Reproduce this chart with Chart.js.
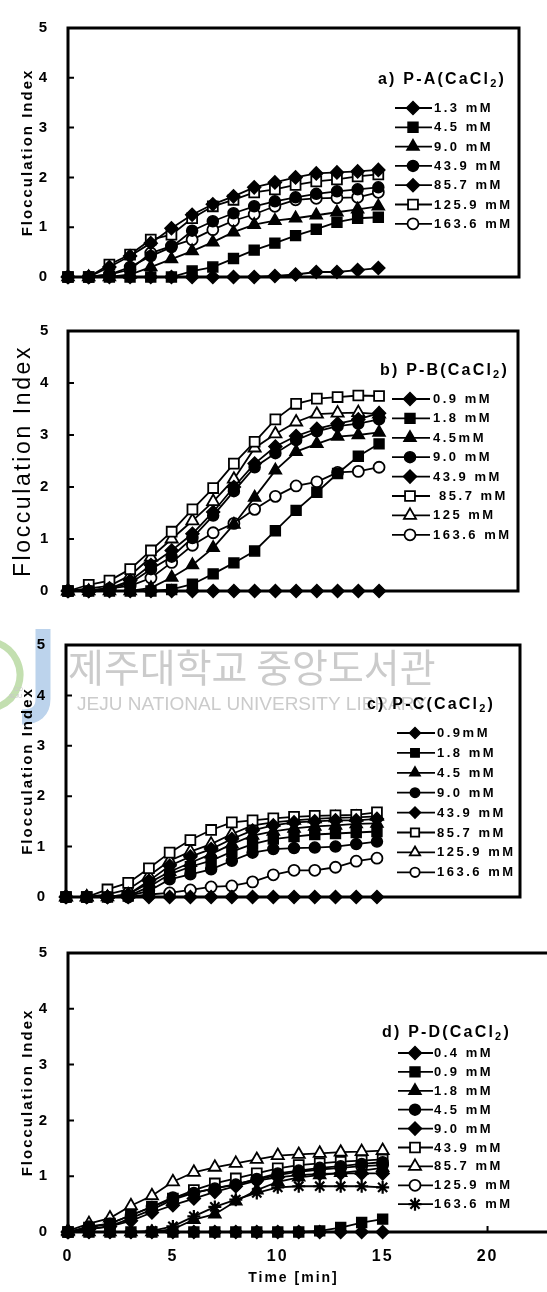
<!DOCTYPE html>
<html>
<head>
<meta charset="utf-8">
<script src="https://cdn.jsdelivr.net/npm/chart.js@4.4.1/dist/chart.umd.min.js"></script>
<style>
  html, body { margin: 0; padding: 0; background: #fff; width: 547px; height: 1292px; overflow: hidden; }
  canvas { position: absolute; left: 0; }
</style>
</head>
<body>
<canvas id="pa" width="547" height="305" style="top:0px"></canvas>
<canvas id="pb" width="547" height="312" style="top:305px"></canvas>
<canvas id="pc" width="547" height="308" style="top:617px"></canvas>
<canvas id="pd" width="547" height="367" style="top:925px"></canvas>
<script>
// ---------- shared axes ----------
const minutes = [0, 1, 2, 3, 4, 5, 6, 7, 8, 9, 10, 11, 12, 13, 14, 15];
const yTickValues = [0, 1, 2, 3, 4, 5];
const xTickValues = [0, 5, 10, 15, 20];
const yAxisTitle = 'Flocculation Index';
const xAxisTitle = 'Time [min]';

// ---------- a) P-A (CaCl2) ----------
const paTitle = ['a) P-A(CaCl', '2', ')'];
const paLabels = ['1.3 mM', '4.5 mM', '9.0 mM', '43.9 mM', '85.7 mM', '125.9 mM', '163.6 mM'];
const pa_1_3   = [0, 0, 0, 0, 0, 0, 0, 0, 0, 0, 0.02, 0.05, 0.1, 0.1, 0.14, 0.18];
const pa_4_5   = [0, 0, 0, 0, 0, 0, 0.12, 0.2, 0.37, 0.54, 0.68, 0.83, 0.96, 1.1, 1.18, 1.2];
const pa_9_0   = [0, 0, 0, 0.05, 0.2, 0.36, 0.52, 0.7, 0.9, 1.05, 1.13, 1.18, 1.24, 1.3, 1.36, 1.42];
const pa_43_9  = [0, 0, 0.05, 0.2, 0.42, 0.6, 0.93, 1.12, 1.28, 1.42, 1.52, 1.6, 1.67, 1.72, 1.76, 1.8];
const pa_85_7  = [0, 0, 0.2, 0.42, 0.68, 0.98, 1.25, 1.46, 1.62, 1.8, 1.9, 2.0, 2.08, 2.1, 2.12, 2.15];
const pa_125_9 = [0, 0, 0.25, 0.45, 0.75, 0.85, 1.18, 1.42, 1.55, 1.7, 1.76, 1.85, 1.92, 1.96, 2.02, 2.06];
const pa_163_6 = [0, 0, 0.05, 0.15, 0.48, 0.62, 0.75, 0.95, 1.13, 1.26, 1.42, 1.55, 1.58, 1.59, 1.6, 1.7];

// ---------- b) P-B (CaCl2) ----------
const pbTitle = ['b) P-B(CaCl', '2', ')'];
const pbLabels = ['0.9 mM', '1.8 mM', '4.5mM', '9.0 mM', '43.9 mM', ' 85.7 mM', '125 mM', '163.6 mM'];
const pb_0_9   = [0, 0, 0, 0, 0, 0, 0, 0, 0, 0, 0, 0, 0, 0, 0, 0];
const pb_1_8   = [0, 0, 0, 0, 0, 0.03, 0.13, 0.33, 0.54, 0.77, 1.16, 1.55, 1.9, 2.26, 2.59, 2.83];
const pb_4_5   = [0, 0, 0, 0, 0.06, 0.26, 0.5, 0.83, 1.28, 1.8, 2.32, 2.68, 2.83, 2.97, 3.0, 3.05];
const pb_9_0   = [0, 0, 0.05, 0.15, 0.42, 0.66, 1.02, 1.45, 1.92, 2.38, 2.65, 2.9, 3.07, 3.17, 3.22, 3.3];
const pb_43_9  = [0, 0, 0.05, 0.2, 0.5, 0.78, 1.1, 1.52, 2.0, 2.45, 2.78, 2.98, 3.12, 3.22, 3.3, 3.42];
const pb_85_7  = [0, 0.12, 0.2, 0.42, 0.78, 1.14, 1.57, 1.98, 2.45, 2.87, 3.3, 3.6, 3.7, 3.73, 3.76, 3.75];
const pb_125   = [0, 0.05, 0.1, 0.3, 0.65, 1.0, 1.35, 1.72, 2.15, 2.75, 3.02, 3.25, 3.4, 3.42, 3.43, 3.4];
const pb_163_6 = [0, 0.02, 0.05, 0.1, 0.25, 0.55, 0.88, 1.12, 1.3, 1.57, 1.82, 2.02, 2.1, 2.28, 2.3, 2.38];

// ---------- c) P-C (CaCl2) ----------
const pcTitle = ['c) P-C(CaCl', '2', ')'];
const pcLabels = ['0.9mM', '1.8 mM', '4.5 mM', '9.0 mM', '43.9 mM', '85.7 mM', '125.9 mM', '163.6 mM'];
const pc_0_9   = [0, 0, 0, 0, 0, 0, 0, 0, 0, 0, 0, 0, 0, 0, 0, 0];
const pc_1_8   = [0, 0, 0, 0.02, 0.2, 0.45, 0.6, 0.72, 0.9, 1.05, 1.15, 1.2, 1.24, 1.26, 1.28, 1.3];
const pc_4_5   = [0, 0, 0, 0.05, 0.28, 0.5, 0.68, 0.85, 1.05, 1.22, 1.3, 1.36, 1.4, 1.42, 1.45, 1.46];
const pc_9_0   = [0, 0, 0, 0.02, 0.12, 0.35, 0.45, 0.55, 0.72, 0.88, 0.95, 0.97, 0.98, 1.0, 1.05, 1.1];
const pc_43_9  = [0, 0, 0, 0.05, 0.32, 0.62, 0.8, 0.95, 1.15, 1.32, 1.42, 1.48, 1.5, 1.52, 1.52, 1.55];
const pc_85_7  = [0, 0, 0.15, 0.28, 0.57, 0.88, 1.13, 1.33, 1.48, 1.52, 1.56, 1.59, 1.61, 1.62, 1.63, 1.68];
const pc_125_9 = [0, 0, 0.05, 0.15, 0.42, 0.72, 0.9, 1.05, 1.25, 1.42, 1.48, 1.52, 1.55, 1.57, 1.58, 1.6];
const pc_163_6 = [0, 0, 0, 0, 0.05, 0.08, 0.14, 0.2, 0.22, 0.3, 0.44, 0.53, 0.53, 0.59, 0.71, 0.77];

// ---------- d) P-D (CaCl2) ----------
const pdTitle = ['d) P-D(CaCl', '2', ')'];
const pdLabels = ['0.4 mM', '0.9 mM', '1.8 mM', '4.5 mM', '9.0 mM', '43.9 mM', '85.7 mM', '125.9 mM', '163.6 mM'];
const pd_0_4   = [0, 0, 0, 0, 0, 0, 0, 0, 0, 0, 0, 0, 0, 0, 0, 0];
const pd_0_9   = [0, 0, 0, 0, 0, 0, 0, 0, 0, 0, 0, 0, 0.02, 0.08, 0.17, 0.23];
const pd_1_8   = [0, 0, 0, 0, 0, 0.05, 0.22, 0.32, 0.55, 0.75, 0.9, 0.98, 1.02, 1.06, 1.1, 1.15];
const pd_4_5   = [0, 0.1, 0.15, 0.3, 0.45, 0.62, 0.7, 0.78, 0.85, 0.95, 1.05, 1.1, 1.15, 1.18, 1.22, 1.25];
const pd_9_0   = [0, 0.05, 0.1, 0.2, 0.35, 0.48, 0.6, 0.72, 0.82, 0.92, 0.98, 1.02, 1.04, 1.05, 1.05, 1.05];
const pd_43_9  = [0, 0.08, 0.15, 0.3, 0.45, 0.6, 0.75, 0.87, 0.96, 1.05, 1.14, 1.2, 1.23, 1.26, 1.28, 1.3];
const pd_85_7  = [0.02, 0.15, 0.25, 0.47, 0.65, 0.9, 1.07, 1.16, 1.23, 1.3, 1.37, 1.39, 1.41, 1.43, 1.44, 1.46];
const pd_125_9 = [0, 0.05, 0.1, 0.25, 0.4, 0.58, 0.7, 0.78, 0.86, 0.94, 1.02, 1.08, 1.12, 1.15, 1.18, 1.2];
const pd_163_6 = [0, 0, 0, 0, 0.02, 0.1, 0.28, 0.45, 0.58, 0.7, 0.8, 0.82, 0.82, 0.82, 0.82, 0.8];

// ---------- marker styles ----------
const MARK = {
  fd: { style: 'rectRot',  r: 6.5, fill: '#000', bw: 1.5 },
  fs: { style: 'rect',     r: 7,   fill: '#000', bw: 1.5 },
  ft: { style: 'triangle', r: 7,   fill: '#000', bw: 1.5 },
  fc: { style: 'circle',   r: 5.5, fill: '#000', bw: 1.5 },
  os: { style: 'rect',     r: 7,   fill: '#fff', bw: 1.8 },
  ot: { style: 'triangle', r: 7,   fill: '#fff', bw: 1.8 },
  oc: { style: 'circle',   r: 5.5, fill: '#fff', bw: 1.8 },
  st: { style: 'star',     r: 6.5, fill: '#000', bw: 2.2 }
};

const FONT = '"Liberation Sans", Arial, Helvetica, sans-serif';

function makeSets(labels, series, marks) {
  return labels.map((lab, i) => {
    const m = MARK[marks[i]];
    return {
      label: lab,
      data: minutes.map((t, k) => ({ x: t, y: series[i][k] })),
      borderColor: '#000',
      borderWidth: 1.8,
      pointStyle: m.style,
      pointRadius: m.r,
      pointBorderWidth: m.bw,
      pointBackgroundColor: m.fill,
      pointBorderColor: '#000',
      tension: 0,
      fill: false,
      clip: false
    };
  });
}

// box round the plot area, with short inward ticks
const frame = {
  id: 'frame',
  beforeDatasetsDraw(chart, args, o) {
    const { ctx, chartArea: { left, right, top, bottom }, scales: { x, y } } = chart;
    ctx.save();
    ctx.strokeStyle = '#000';
    ctx.lineWidth = 3;
    ctx.lineJoin = 'miter';
    ctx.beginPath();
    if (o.openRight) {
      ctx.moveTo(chart.width, top);
      ctx.lineTo(left, top);
      ctx.lineTo(left, bottom);
      ctx.lineTo(chart.width, bottom);
    } else {
      ctx.rect(left, top, right - left, bottom - top);
    }
    ctx.stroke();
    ctx.lineWidth = 2;
    ctx.beginPath();
    y.ticks.forEach(t => {
      if (t.value > y.min && t.value < y.max) {
        const py = y.getPixelForValue(t.value);
        ctx.moveTo(left, py);
        ctx.lineTo(left + 6, py);
      }
    });
    if (o.xTicks) {
      x.ticks.forEach(t => {
        if (t.value > x.min) {
          const px = x.getPixelForValue(t.value);
          ctx.moveTo(px, bottom);
          ctx.lineTo(px, bottom - 6);
        }
      });
    }
    ctx.stroke();
    ctx.restore();
  }
};

// series key: title with subscript, then line + marker + concentration
const keyBox = {
  id: 'keyBox',
  afterDatasetsDraw(chart, args, o) {
    const ctx = chart.ctx;
    ctx.save();
    ctx.fillStyle = '#000';
    ctx.textAlign = 'left';
    ctx.textBaseline = 'middle';
    ctx.letterSpacing = o.titleSpacing + 'px';
    let tx = o.titleX;
    const big = 'bold ' + o.titleSize + 'px ' + FONT;
    const small = 'bold ' + Math.round(o.titleSize * 0.68) + 'px ' + FONT;
    ctx.font = big;
    ctx.fillText(o.title[0], tx, o.titleY);
    tx += ctx.measureText(o.title[0]).width;
    ctx.font = small;
    ctx.fillText(o.title[1], tx, o.titleY + 4);
    tx += ctx.measureText(o.title[1]).width;
    ctx.font = big;
    ctx.fillText(o.title[2], tx, o.titleY);

    chart.data.datasets.forEach((ds, i) => {
      const yy = o.rowY + i * o.rowStep;
      ctx.strokeStyle = '#000';
      ctx.lineWidth = 1.8;
      ctx.beginPath();
      ctx.moveTo(o.lineX0, yy);
      ctx.lineTo(o.lineX1, yy);
      ctx.stroke();
      ctx.fillStyle = ds.pointBackgroundColor;
      ctx.lineWidth = ds.pointBorderWidth;
      Chart.helpers.drawPoint(ctx, {
        pointStyle: ds.pointStyle,
        rotation: 0,
        radius: ds.pointRadius * o.markScale,
        borderWidth: ds.pointBorderWidth
      }, o.markX, yy);
      ctx.fillStyle = '#000';
      ctx.font = 'bold ' + o.textSize + 'px ' + FONT;
      ctx.letterSpacing = o.textSpacing + 'px';
      ctx.fillText(ds.label, o.textX, yy + 0.5);
    });
    ctx.restore();
  }
};

// wide letter spacing for the axis text
const spacing = {
  id: 'spacing',
  beforeDraw(chart, args, o) { chart.ctx.letterSpacing = o.px + 'px'; }
};

// library stamp printed across panel c
const libraryMark = {
  id: 'libraryMark',
  beforeDraw(chart) {
    const ctx = chart.ctx;
    ctx.save();
    ctx.letterSpacing = '0px';
    ctx.strokeStyle = '#c3dfb0';
    ctx.lineWidth = 7;
    ctx.beginPath();
    ctx.arc(-14, 58, 34, -1.25, 1.25);
    ctx.stroke();
    ctx.strokeStyle = '#bcd3ec';
    ctx.lineWidth = 15;
    ctx.beginPath();
    ctx.moveTo(43, 12);
    ctx.lineTo(43, 82);
    ctx.quadraticCurveTo(43, 100, 22, 100);
    ctx.stroke();
    ctx.fillStyle = '#c8c8c8';
    ctx.textBaseline = 'middle';
    ctx.font = '6px ' + FONT;
    ctx.fillText('CO', 14, 72);
    ctx.fillText('JEJU', 8, 79);
    ctx.font = '39px "Noto Sans CJK KR", sans-serif';
    ctx.fillStyle = '#cbcbcb';
    ctx.fillText('제주대학교 중앙도서관', 68, 50);
    ctx.font = '19px ' + FONT;
    ctx.fillText('JEJU NATIONAL UNIVERSITY LIBRARY', 77, 88);
    ctx.restore();
  }
};

const PANELS = [
  { id: 'pa', labels: paLabels, series: [pa_1_3, pa_4_5, pa_9_0, pa_43_9, pa_85_7, pa_125_9, pa_163_6],
    marks: ['fd', 'fs', 'ft', 'fc', 'fd', 'os', 'oc'],
    left: 68, right: 519, padTop: 15, xHeight: 12, xMax: 21.8, tickPad: 19,
    yTitleFont: { family: FONT, size: 15, weight: 'bold' }, yTitlePad: 19, spacing: 2,
    key: { title: paTitle, titleX: 378, titleY: 80, titleSize: 16, titleSpacing: 2.2,
           rowY: 108, rowStep: 19.3, lineX0: 395, lineX1: 432, markX: 413, markScale: 1,
           textX: 434, textSize: 13, textSpacing: 2.5 } },
  { id: 'pb', labels: pbLabels, series: [pb_0_9, pb_1_8, pb_4_5, pb_9_0, pb_43_9, pb_85_7, pb_125, pb_163_6],
    marks: ['fd', 'fs', 'ft', 'fc', 'fd', 'os', 'ot', 'oc'],
    left: 68, right: 518, padTop: 20, xHeight: 12, xMax: 21.7, tickPad: 17,
    yTitleFont: { family: FONT, size: 23, weight: 'normal' }, yTitlePad: 10, spacing: 2.6,
    key: { title: pbTitle, titleX: 380, titleY: 66, titleSize: 16, titleSpacing: 2.2,
           rowY: 94, rowStep: 19.4, lineX0: 392, lineX1: 430, markX: 410, markScale: 1,
           textX: 433, textSize: 13, textSpacing: 2.5 } },
  { id: 'pc', labels: pcLabels, series: [pc_0_9, pc_1_8, pc_4_5, pc_9_0, pc_43_9, pc_85_7, pc_125_9, pc_163_6],
    marks: ['fd', 'fs', 'ft', 'fc', 'fd', 'os', 'ot', 'oc'],
    left: 66, right: 520, padTop: 18, xHeight: 12, xMax: 21.9, tickPad: 19,
    yTitleFont: { family: FONT, size: 15, weight: 'bold' }, yTitlePad: 19, spacing: 2,
    stamp: true,
    key: { title: pcTitle, titleX: 367, titleY: 88, titleSize: 16, titleSpacing: 2.2,
           rowY: 116, rowStep: 19.9, lineX0: 397, lineX1: 435, markX: 415, markScale: 0.85,
           textX: 437, textSize: 13, textSpacing: 2.5 } },
  { id: 'pd', labels: pdLabels, series: [pd_0_4, pd_0_9, pd_1_8, pd_4_5, pd_9_0, pd_43_9, pd_85_7, pd_125_9, pd_163_6],
    marks: ['fd', 'fs', 'ft', 'fc', 'fd', 'os', 'ot', 'oc', 'st'],
    left: 68, right: 519, padTop: 20, xHeight: 60, xMax: 21.5, tickPad: 19,
    yTitleFont: { family: FONT, size: 15, weight: 'bold' }, yTitlePad: 19, spacing: 2,
    showX: true, openRight: true,
    key: { title: pdTitle, titleX: 382, titleY: 108, titleSize: 16, titleSpacing: 2.2,
           rowY: 128, rowStep: 18.9, lineX0: 398, lineX1: 433, markX: 415, markScale: 1,
           textX: 434, textSize: 13, textSpacing: 2.5 } }
];

PANELS.forEach(p => {
  const plugins = [spacing, frame, keyBox];
  if (p.stamp) plugins.unshift(libraryMark);
  new Chart(document.getElementById(p.id), {
    type: 'line',
    data: { datasets: makeSets(p.labels, p.series, p.marks) },
    plugins: plugins,
    options: {
      responsive: false,
      animation: false,
      events: [],
      layout: { padding: { top: p.padTop, right: 547 - p.right, left: 0, bottom: 0 } },
      plugins: {
        legend: { display: false },
        tooltip: { enabled: false },
        spacing: { px: p.spacing },
        frame: { openRight: !!p.openRight, xTicks: !!p.showX },
        keyBox: p.key
      },
      scales: {
        x: {
          type: 'linear',
          min: 0,
          max: p.xMax,
          afterBuildTicks: s => { s.ticks = xTickValues.map(v => ({ value: v })); },
          afterFit: s => { s.height = p.xHeight; },
          grid: { display: false, drawTicks: false },
          border: { display: false },
          ticks: {
            display: !!p.showX,
            color: '#000',
            padding: 15,
            maxRotation: 0,
            font: { family: FONT, size: 16, weight: 'bold' }
          },
          title: {
            display: !!p.showX,
            text: xAxisTitle,
            color: '#000',
            padding: { top: 0, bottom: 5 },
            font: { family: FONT, size: 14, weight: 'bold' }
          }
        },
        y: {
          type: 'linear',
          min: 0,
          max: 5,
          afterBuildTicks: s => { s.ticks = yTickValues.map(v => ({ value: v })); },
          afterFit: s => { s.width = p.left; },
          grid: { display: false, drawTicks: false },
          border: { display: false },
          ticks: {
            color: '#000',
            padding: p.tickPad,
            font: { family: FONT, size: 15, weight: 'bold' }
          },
          title: {
            display: true,
            text: yAxisTitle,
            color: '#000',
            padding: { top: p.yTitlePad, bottom: 0 },
            font: p.yTitleFont
          }
        }
      }
    }
  });
});
</script>
</body>
</html>
